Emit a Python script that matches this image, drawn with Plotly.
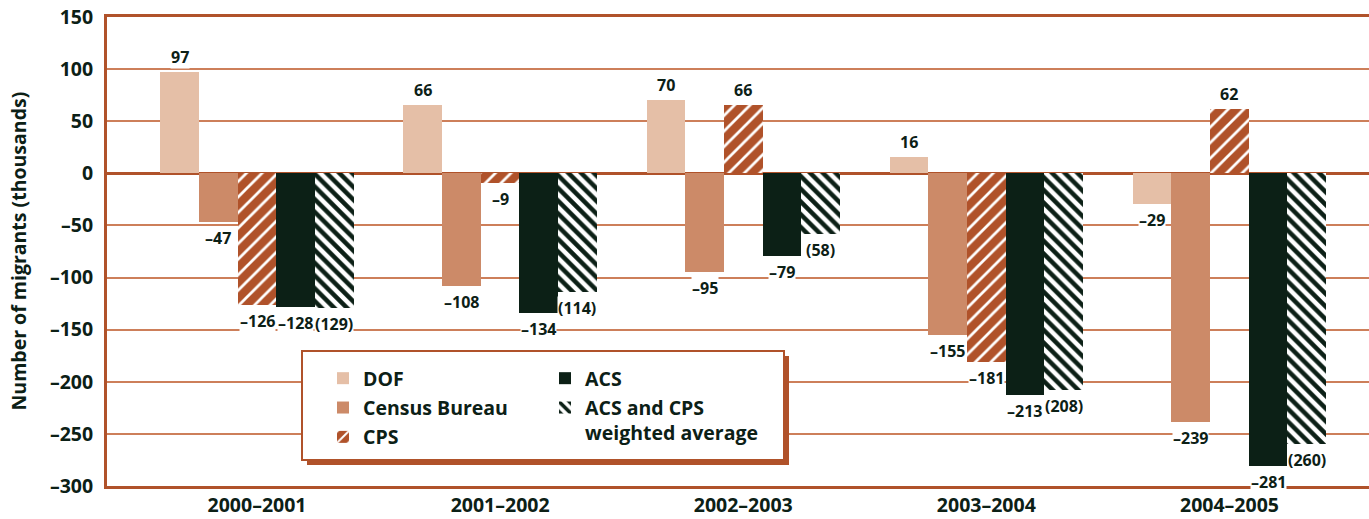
import numpy as np
import plotly.graph_objects as go

periods = ["2000–2001", "2001–2002", "2002–2003", "2003–2004", "2004–2005"]
dof = [97, 66, 70, 16, -29]
census = [-47, -108, -95, -155, -239]
cps = [-126, -9, 66, -181, 62]
acs = [-128, -134, -79, -213, -281]
acs_cps_avg = [-129, -114, -58, -208, -260]

INK = "#0c2016"
RUST = "#b0522a"
FONT = "Open Sans"

series = [
    ("DOF", dof, dict(color="#e5bfa7"), "legend"),
    ("Census Bureau", census, dict(color="#cc8a68"), "legend"),
    ("CPS", cps, dict(color=RUST, pattern=dict(shape="/", fgcolor="white", bgcolor=RUST,
                                                 size=11, solidity=0.25, fillmode="replace")), "legend"),
    ("ACS", acs, dict(color=INK), "legend2"),
    ("ACS and CPS<br>weighted average", acs_cps_avg,
     dict(color=INK, pattern=dict(shape="\\", fgcolor=INK, bgcolor="white",
                                  size=9, solidity=0.5, fillmode="replace")), "legend2"),
]

w = 0.159
xs = np.arange(len(periods))
fig = go.Figure()
annotations = []
for i, (name, vals, marker, leg) in enumerate(series):
    xpos = xs + (i - 2) * w
    fig.add_trace(go.Bar(x=xpos, y=vals, width=w, name=name, legend=leg, legendgroup=name,
                         marker=dict(line=dict(width=0), **marker), hoverinfo="y"))
    for xp, v in zip(xpos, vals):
        if i == 4:
            txt = f"({abs(v)})"
        else:
            txt = f"–{abs(v)}" if v < 0 else str(v)
        annotations.append(dict(x=xp, y=v, text=txt, showarrow=False, yanchor="middle",
                                yshift=15 if v > 0 else -16, bgcolor="white", borderpad=0,
                                font=dict(family=FONT, size=16, color=INK, weight="bold")))

annotations.append(dict(x=0, y=0.5, xref="paper", yref="paper", xshift=-89, xanchor="center",
                        yanchor="middle", text="Number of migrants (thousands)", textangle=-90,
                        showarrow=False, font=dict(family=FONT, size=19.5, color=INK, weight="bold")))


# pixel -> paper helpers (plot area is 107..1369 x 17..486)
def px(x):
    return (x - 107) / 1262


def py(y):
    return (486 - y) / 469


shapes = [
    dict(type="rect", xref="paper", yref="paper", x0=px(307), x1=px(789), y0=py(465), y1=py(356),
         fillcolor=RUST, line=dict(width=0), layer="above"),
    dict(type="rect", xref="paper", yref="paper", x0=px(302), x1=px(784), y0=py(460), y1=py(351),
         fillcolor="white", line=dict(color=RUST, width=2), layer="above"),
]

legend_font = dict(family=FONT, size=19.5, color=INK, weight="bold")
yticks = list(range(-300, 151, 50))
fig.update_layout(
    width=1369, height=519,
    margin=dict(l=107, r=0, t=17, b=33),
    plot_bgcolor="white", paper_bgcolor="white",
    barmode="overlay", bargap=0,
    showlegend=True,
    legend=dict(x=px(323), y=py(359), xanchor="left", yanchor="top", bgcolor="rgba(0,0,0,0)",
                tracegroupgap=1, font=legend_font),
    legend2=dict(x=px(545), y=py(359), xanchor="left", yanchor="top", bgcolor="rgba(0,0,0,0)",
                 tracegroupgap=1, valign="top", font=legend_font),
    annotations=annotations,
    shapes=shapes,
)
fig.update_xaxes(range=[-0.617, 4.574], tickvals=xs, ticktext=periods, showgrid=False, zeroline=False,
                 showline=True, linecolor=RUST, linewidth=3, mirror=True, ticks="", automargin=False,
                 ticklabelstandoff=0, tickfont=dict(family=FONT, size=19.5, color=INK, weight="bold"))
fig.update_yaxes(range=[-300, 150], tickvals=yticks,
                 ticktext=[f"–{abs(t)}" if t < 0 else str(t) for t in yticks],
                 showgrid=True, gridcolor="#cd7f5a", gridwidth=1.5,
                 zeroline=True, zerolinecolor=RUST, zerolinewidth=3,
                 showline=True, linecolor=RUST, linewidth=3, ticks="", automargin=False,
                 ticklabelstandoff=7, tickfont=dict(family=FONT, size=19.5, color=INK, weight="bold"))

fig.write_html("out.html", config={"displayModeBar": False},
               post_script="document.body.style.margin='0';")
